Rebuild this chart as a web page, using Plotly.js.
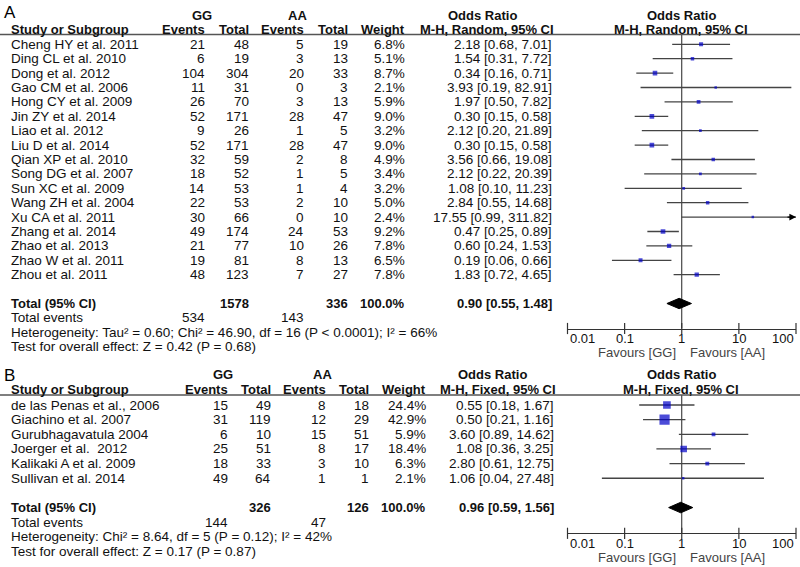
<!DOCTYPE html>
<html>
<head>
<meta charset="utf-8">
<script src="https://cdn.plot.ly/plotly-3.0.1.min.js"></script>
<style>
  html, body { margin: 0; padding: 0; background: #fff; }
  #chart { width: 800px; height: 567px; }
</style>
</head>
<body>
<div id="chart"></div>
<script>
/* Forest plots: GG vs AA, panel A (random effects) and panel B (fixed effects) */

// ─── Panel A data ───
const studiesA = ['Cheng HY et al. 2011', 'Ding CL et al. 2010', 'Dong et al. 2012', 'Gao CM et al. 2006',
  'Hong CY et al. 2009', 'Jin ZY et al. 2014', 'Liao et al. 2012', 'Liu D et al. 2014', 'Qian XP et al. 2010',
  'Song DG et al. 2007', 'Sun XC et al. 2009', 'Wang ZH et al. 2004', 'Xu CA et al. 2011', 'Zhang et al. 2014',
  'Zhao et al. 2013', 'Zhao W et al. 2011', 'Zhou et al. 2011'];
const ggEventsA = [21, 6, 104, 11, 26, 52, 9, 52, 32, 18, 14, 22, 30, 49, 21, 19, 48];
const ggTotalA  = [48, 19, 304, 31, 70, 171, 26, 171, 59, 52, 53, 53, 66, 174, 77, 81, 123];
const aaEventsA = [5, 3, 20, 0, 3, 28, 1, 28, 2, 1, 1, 2, 0, 24, 10, 8, 7];
const aaTotalA  = [19, 13, 33, 3, 13, 47, 5, 47, 8, 5, 4, 10, 10, 53, 26, 13, 27];
const weightA   = [6.8, 5.1, 8.7, 2.1, 5.9, 9.0, 3.2, 9.0, 4.9, 3.4, 3.2, 5.0, 2.4, 9.2, 7.8, 6.5, 7.8];
const orA       = [2.18, 1.54, 0.34, 3.93, 1.97, 0.30, 2.12, 0.30, 3.56, 2.12, 1.08, 2.84, 17.55, 0.47, 0.60, 0.19, 1.83];
const lowA      = [0.68, 0.31, 0.16, 0.19, 0.50, 0.15, 0.20, 0.15, 0.66, 0.22, 0.10, 0.55, 0.99, 0.25, 0.24, 0.06, 0.72];
const highA     = [7.01, 7.72, 0.71, 82.91, 7.82, 0.58, 21.89, 0.58, 19.08, 20.39, 11.23, 14.68, 311.82, 0.89, 1.53, 0.66, 4.65];
const totalA    = { ggTotal: 1578, aaTotal: 336, ggEvents: 534, aaEvents: 143, or: 0.90, low: 0.55, high: 1.48 };
const hetA  = 'Heterogeneity: Tau² = 0.60; Chi² = 46.90, df = 16 (P &lt; 0.0001); I² = 66%';
const testA = 'Test for overall effect: Z = 0.42 (P = 0.68)';

// ─── Panel B data ───
const studiesB = ['de las Penas et al., 2006', 'Giachino et al. 2007', 'Gurubhagavatula 2004',
  'Joerger et al.  2012', 'Kalikaki A et al. 2009', 'Sullivan et al. 2014'];
const ggEventsB = [15, 31, 6, 25, 18, 49];
const ggTotalB  = [49, 119, 10, 51, 33, 64];
const aaEventsB = [8, 12, 15, 8, 3, 1];
const aaTotalB  = [18, 29, 51, 17, 10, 1];
const weightB   = [24.4, 42.9, 5.9, 18.4, 6.3, 2.1];
const orB       = [0.55, 0.50, 3.60, 1.08, 2.80, 1.06];
const lowB      = [0.18, 0.21, 0.89, 0.36, 0.61, 0.04];
const highB     = [1.67, 1.16, 14.62, 3.25, 12.75, 27.48];
const totalB    = { ggTotal: 326, aaTotal: 126, ggEvents: 144, aaEvents: 47, or: 0.96, low: 0.59, high: 1.56 };
const hetB  = 'Heterogeneity: Chi² = 8.64, df = 5 (P = 0.12); I² = 42%';
const testB = 'Test for overall effect: Z = 0.17 (P = 0.87)';

// ─── Axis ticks ───
const TICK_VALUES = [0.01, 0.1, 1, 10, 100];
const TICK_TEXT   = ['0.01', '0.1', '1', '10', '100'];
const NULL_OR  = 1;
const AXIS_MAX = 100;

const W = 800, H = 567;
const FONT = '"Liberation Sans", Arial, sans-serif';
const TXT = '#111';
const REG = 13.5, BOLD = 13;
const py = p => 1 - p / H;

const traces = [], annotations = [], shapes = [];
const layout = {
  width: W, height: H, margin: { l: 0, r: 0, t: 0, b: 0 },
  paper_bgcolor: '#fff', plot_bgcolor: 'rgba(0,0,0,0)', showlegend: false,
  font: { family: FONT, size: 13, color: TXT }
};

function label(text, xpx, y, yref, xanchor, bold, size, color) {
  annotations.push({
    text: bold ? '<b>' + text + '</b>' : text, xref: 'paper', x: xpx / W, yref, y,
    xanchor, yanchor: 'middle', showarrow: false,
    font: { family: FONT, size: size || (bold ? BOLD : REG), color: color || TXT }
  });
}

const fmt2 = v => v.toFixed(2);
const ciText = (o, l, h) => `${fmt2(o)} [${fmt2(l)}, ${fmt2(h)}]`;

function drawPanel(cfg, d) {
  const rowOf = p => 1 + (p - cfg.row1) / cfg.step;
  const rowPaper = r => py(cfg.row1 + (r - 1) * cfg.step);
  const xa = cfg.xa, ya = cfg.ya;
  const xKey = xa === 'x' ? 'xaxis' : 'xaxis' + xa.slice(1);
  const yKey = ya === 'y' ? 'yaxis' : 'yaxis' + ya.slice(1);
  const rows = d.names.map((_, i) => i + 1);
  const totRow = rows.length + 2;
  const c = cfg.cols;

  layout[xKey] = {
    type: 'log', domain: [567.5 / W, 796 / W], range: [-2, 2], anchor: ya,
    showline: true, linecolor: '#333', linewidth: 1, ticks: '', tickvals: TICK_VALUES,
    showticklabels: false, showgrid: false, zeroline: false, fixedrange: true
  };
  layout[yKey] = {
    domain: [py(cfg.axisY), py(cfg.top)], range: [rowOf(cfg.axisY), rowOf(cfg.top)],
    anchor: xa, visible: false, fixedrange: true
  };

  // header rule
  shapes.push({ type: 'line', xref: 'paper', yref: 'paper', x0: 0, x1: 1,
    y0: py(cfg.top), y1: py(cfg.top), line: { color: '#555', width: 1.5 } });

  // headers
  label(cfg.letter, 2, py(cfg.letterY), 'paper', 'left', false, 17, '#000');
  label('GG', c.gg, py(cfg.h1), 'paper', 'center', true);
  label('AA', c.aa, py(cfg.h1), 'paper', 'center', true);
  label('Odds Ratio', c.orHead, py(cfg.h1), 'paper', 'center', true);
  label('Odds Ratio', 681, py(cfg.h1), 'paper', 'center', true);
  label('Study or Subgroup', 9, py(cfg.h2), 'paper', 'left', true);
  label('Events', c.ev1, py(cfg.h2), 'paper', 'right', true);
  label('Total', c.tot1, py(cfg.h2), 'paper', 'right', true);
  label('Events', c.ev2, py(cfg.h2), 'paper', 'right', true);
  label('Total', c.tot2, py(cfg.h2), 'paper', 'right', true);
  label('Weight', c.wt, py(cfg.h2), 'paper', 'right', true);
  label(cfg.method, c.mhHead, py(cfg.h2), 'paper', 'center', true);
  label(cfg.method, 681, py(cfg.h2), 'paper', 'center', true);

  // study rows
  rows.forEach((r, i) => {
    label(d.names[i], 9, r, ya, 'left');
    label(String(d.ggEv[i]), c.ev1, r, ya, 'right');
    label(String(d.ggTot[i]), c.tot1, r, ya, 'right');
    label(String(d.aaEv[i]), c.ev2, r, ya, 'right');
    label(String(d.aaTot[i]), c.tot2, r, ya, 'right');
    label(d.wt[i].toFixed(1) + '%', c.wt, r, ya, 'right');
    label(ciText(d.or[i], d.lo[i], d.hi[i]), c.or, r, ya, 'right');
    if (d.hi[i] > AXIS_MAX) {
      annotations.push({ xref: xa, x: Math.log10(AXIS_MAX), yref: ya, y: r, text: ' ',
        showarrow: true, ax: -12, ay: 0, arrowhead: 2, arrowsize: 1.1, arrowwidth: 1.2,
        arrowcolor: '#000', standoff: 0 });
    }
  });

  // totals and footer text (footer rows sit below the axis range, so use paper coords)
  const t = d.total;
  label('Total (95% CI)', 9, totRow, ya, 'left', true);
  label(String(t.ggTotal), c.tot1, totRow, ya, 'right', true);
  label(String(t.aaTotal), c.tot2, totRow, ya, 'right', true);
  label('100.0%', c.wt, totRow, ya, 'right', true);
  label(ciText(t.or, t.low, t.high), c.or, totRow, ya, 'right', true);
  label('Total events', 9, rowPaper(totRow + 1), 'paper', 'left');
  label(String(t.ggEvents), c.ev1, rowPaper(totRow + 1), 'paper', 'right');
  label(String(t.aaEvents), c.ev2, rowPaper(totRow + 1), 'paper', 'right');
  label(d.het, 9, rowPaper(totRow + 2), 'paper', 'left');
  label(d.test, 9, rowPaper(totRow + 3), 'paper', 'left');

  // null-effect line
  traces.push({ x: [NULL_OR, NULL_OR], y: [rowOf(cfg.top), rowOf(cfg.axisY)], xaxis: xa, yaxis: ya,
    mode: 'lines', line: { color: '#222', width: 1 }, hoverinfo: 'skip', cliponaxis: false });

  // tick marks crossing the axis line
  traces.push({ x: TICK_VALUES, y: TICK_VALUES.map(() => rowOf(cfg.axisY)), xaxis: xa, yaxis: ya,
    mode: 'markers', marker: { symbol: 'line-ns-open', size: 8, color: '#333', line: { color: '#333', width: 1.2 } },
    hoverinfo: 'skip', cliponaxis: false });

  // study estimates with CIs
  traces.push({
    x: d.or, y: rows, xaxis: xa, yaxis: ya, mode: 'markers', hoverinfo: 'skip',
    marker: { symbol: 'square', color: '#0000c8', size: d.wt.map(w => Math.max(2.5, 1.55 * Math.sqrt(w))),
      line: { width: 0 } },
    error_x: { type: 'data', symmetric: false,
      array: d.or.map((o, i) => d.hi[i] - o), arrayminus: d.or.map((o, i) => o - d.lo[i]),
      width: 0, thickness: 1.3, color: '#444' }
  });

  // pooled diamond
  const h = 0.36;
  traces.push({
    x: [t.low, t.or, t.high, t.or, t.low], y: [totRow, totRow - h, totRow, totRow + h, totRow],
    xaxis: xa, yaxis: ya, mode: 'lines', fill: 'toself', fillcolor: '#000',
    line: { color: '#000', width: 1 }, hoverinfo: 'skip'
  });

  // tick labels and favours
  TICK_VALUES.forEach((v, i) => {
    const anchor = i === 0 ? 'left' : (i === TICK_VALUES.length - 1 ? 'right' : 'center');
    annotations.push({ text: TICK_TEXT[i], xref: xa, x: Math.log10(v), yref: 'paper',
      y: py(cfg.axisY + 10), xanchor: anchor, yanchor: 'middle', showarrow: false,
      font: { family: FONT, size: 13, color: TXT } });
  });
  annotations.push({ text: 'Favours [GG]', xref: xa, x: Math.log10(NULL_OR), xshift: -4,
    yref: 'paper', y: py(cfg.axisY + 24), xanchor: 'right', yanchor: 'middle', showarrow: false,
    font: { family: FONT, size: 13, color: '#444' } });
  annotations.push({ text: 'Favours [AA]', xref: xa, x: Math.log10(NULL_OR), xshift: 6,
    yref: 'paper', y: py(cfg.axisY + 24), xanchor: 'left', yanchor: 'middle', showarrow: false,
    font: { family: FONT, size: 13, color: '#444' } });
}

drawPanel(
  { xa: 'x', ya: 'y', letter: 'A', letterY: 12.5, h1: 15, h2: 29.5, top: 34.5, row1: 44.3, step: 14.4,
    axisY: 328.5, method: 'M-H, Random, 95% CI',
    cols: { gg: 202, aa: 297, ev1: 207, tot1: 251, ev2: 306, tot2: 350, wt: 407, or: 554, orHead: 482, mhHead: 487 } },
  { names: studiesA, ggEv: ggEventsA, ggTot: ggTotalA, aaEv: aaEventsA, aaTot: aaTotalA, wt: weightA,
    or: orA, lo: lowA, hi: highA, total: totalA, het: hetA, test: testA }
);

drawPanel(
  { xa: 'x2', ya: 'y2', letter: 'B', letterY: 375, h1: 374, h2: 389.3, top: 395, row1: 405, step: 14.65,
    axisY: 533.3, method: 'M-H, Fixed, 95% CI',
    cols: { gg: 223, aa: 322, ev1: 230, tot1: 273, ev2: 328, tot2: 371, wt: 428, or: 556, orHead: 492, mhHead: 498 } },
  { names: studiesB, ggEv: ggEventsB, ggTot: ggTotalB, aaEv: aaEventsB, aaTot: aaTotalB, wt: weightB,
    or: orB, lo: lowB, hi: highB, total: totalB, het: hetB, test: testB }
);

layout.annotations = annotations;
layout.shapes = shapes;

Plotly.newPlot('chart', traces, layout, { displayModeBar: false, staticPlot: true });
</script>
</body>
</html>
